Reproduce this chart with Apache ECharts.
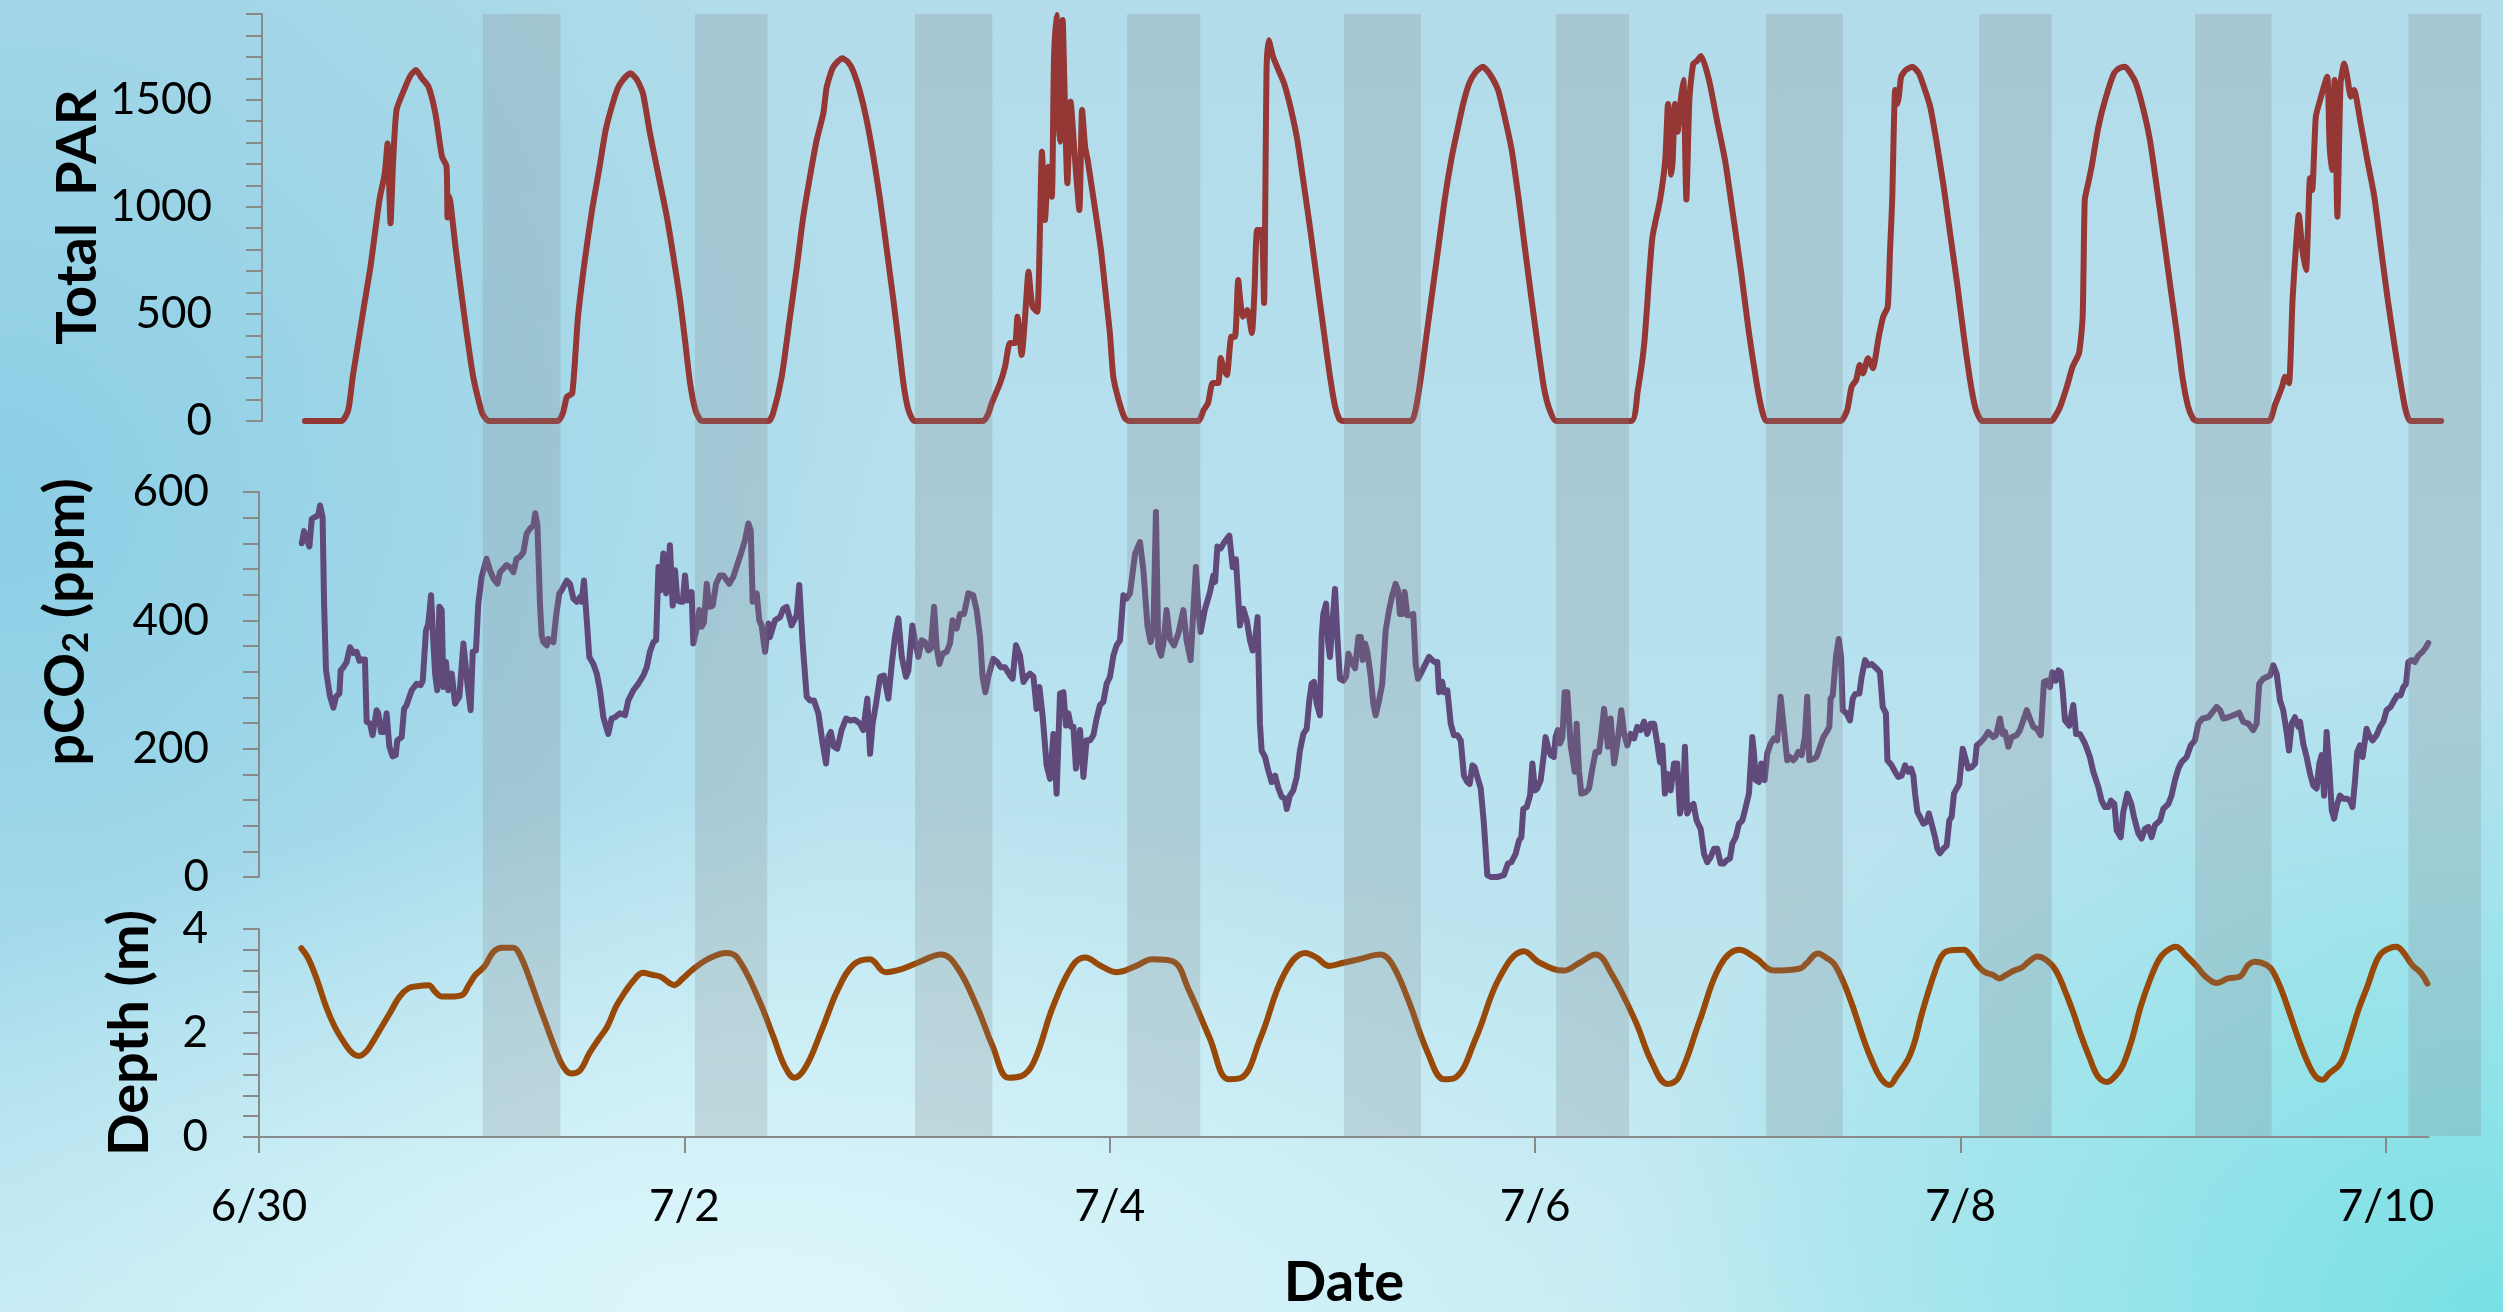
<!DOCTYPE html>
<html>
<head>
<meta charset="utf-8">
<script src="https://cdn.jsdelivr.net/npm/echarts@6/dist/echarts.min.js"></script>
<style>
html,body{margin:0;padding:0;width:2503px;height:1312px;overflow:hidden;}
#chart{width:2503px;height:1312px;
background:
 radial-gradient(ellipse 1100px 520px at 760px 1312px, rgba(222,248,252,0.95) 0%, rgba(222,248,252,0) 100%),
 radial-gradient(ellipse 900px 650px at 2503px 1312px, rgba(115,224,228,0.95) 0%, rgba(115,224,228,0) 100%),
 radial-gradient(ellipse 900px 900px at 0px 500px, rgba(135,204,228,0.9) 0%, rgba(135,204,228,0) 100%),
 linear-gradient(180deg, #b2dce9 0%, #b7e1ee 50%, #c2e9f2 100%);
}
</style>
</head>
<body>
<div id="chart"></div>
<script>
// ---- data (time in days since 6/30 00:00) ----
const parData = [
[0.201,0],[0.372,0],[0.404,51],[0.425,207],[0.445,331],[0.475,520],[0.508,720],[0.550,1032],[0.575,1156],[0.588,1296],[0.602,923],[0.613,1187],[0.630,1452],[0.665,1545],[0.697,1615],[0.721,1638],[0.749,1600],[0.780,1560],[0.812,1436],[0.843,1234],[0.864,1190],[0.869,950],[0.876,1050],[0.884,1010],[0.906,814],[0.948,487],[0.989,207],[1.031,37],[1.062,0],
[1.386,0],[1.410,40],[1.428,113],[1.453,129],[1.480,487],[1.512,751],[1.545,980],[1.580,1180],[1.610,1360],[1.638,1467],[1.665,1550],[1.690,1592],[1.725,1623],[1.755,1595],[1.784,1530],[1.817,1343],[1.856,1150],[1.896,954],[1.928,760],[1.958,565],[1.982,370],[2.005,176],[2.030,50],[2.052,5],[2.062,0],
[2.372,0],[2.394,37],[2.434,207],[2.473,487],[2.505,720],[2.535,954],[2.568,1150],[2.598,1312],[2.629,1436],[2.637,1500],[2.645,1560],[2.676,1654],[2.718,1693],[2.745,1675],[2.770,1631],[2.800,1540],[2.832,1405],[2.864,1230],[2.895,1032],[2.926,800],[2.957,565],[2.981,370],[3.004,176],[3.025,60],[3.043,14],[3.055,0],
[3.378,0],[3.400,30],[3.418,84],[3.457,177],[3.480,253],[3.503,364],[3.527,364],[3.538,487],[3.558,308],[3.574,487],[3.590,697],[3.600,600],[3.609,533],[3.631,510],[3.653,1257],[3.667,938],[3.683,1187],[3.699,1047],[3.709,1677],[3.721,1895],[3.731,1400],[3.737,1304],[3.750,1872],[3.758,1576],[3.772,1110],[3.787,1490],[3.808,1218],[3.828,985],[3.841,1452],[3.855,1280],[3.867,1218],[3.900,1000],[3.929,800],[3.955,560],[3.971,411],[3.987,207],[4.012,98],[4.040,15],[4.060,0],
[4.384,0],[4.410,51],[4.431,84],[4.452,177],[4.478,177],[4.490,294],[4.502,250],[4.519,215],[4.540,393],[4.557,393],[4.572,658],[4.582,560],[4.594,487],[4.615,518],[4.636,411],[4.648,600],[4.661,892],[4.682,892],[4.693,551],[4.705,1650],[4.715,1778],[4.735,1701],[4.760,1640],[4.787,1576],[4.818,1460],[4.849,1312],[4.880,1100],[4.912,876],[4.943,640],[4.974,411],[5.000,220],[5.026,67],[5.045,10],[5.059,0],
[5.382,0],[5.400,40],[5.424,177],[5.450,370],[5.476,565],[5.508,800],[5.539,1032],[5.570,1220],[5.602,1374],[5.628,1490],[5.654,1576],[5.685,1630],[5.717,1654],[5.750,1620],[5.789,1545],[5.820,1420],[5.853,1265],[5.885,1040],[5.916,798],[5.947,560],[5.978,331],[6.005,150],[6.031,51],[6.061,0],
[6.412,0],[6.443,140],[6.474,364],[6.511,850],[6.548,1034],[6.572,1218],[6.585,1480],[6.600,1150],[6.607,1218],[6.617,1480],[6.630,1350],[6.645,1500],[6.657,1592],[6.671,1034],[6.685,1500],[6.703,1667],[6.720,1680],[6.740,1704],[6.777,1592],[6.815,1400],[6.852,1218],[6.890,960],[6.927,700],[6.963,420],[7.000,177],[7.025,50],[7.046,0],
[7.393,0],[7.424,51],[7.445,160],[7.466,191],[7.483,261],[7.498,222],[7.522,293],[7.544,246],[7.572,393],[7.593,487],[7.614,533],[7.625,800],[7.635,1032],[7.649,1545],[7.658,1480],[7.666,1514],[7.677,1607],[7.698,1638],[7.729,1654],[7.760,1623],[7.787,1550],[7.813,1467],[7.845,1290],[7.876,1094],[7.907,870],[7.939,643],[7.970,400],[8.002,176],[8.025,60],[8.044,14],[8.055,0],
[8.380,0],[8.400,25],[8.422,67],[8.453,160],[8.480,253],[8.510,317],[8.527,487],[8.537,1032],[8.553,1110],[8.569,1187],[8.600,1370],[8.632,1498],[8.674,1623],[8.700,1648],[8.726,1654],[8.750,1625],[8.777,1576],[8.810,1460],[8.842,1312],[8.873,1100],[8.904,876],[8.936,640],[8.968,411],[8.995,200],[9.021,67],[9.045,10],[9.063,0],
[9.398,0],[9.428,75],[9.461,160],[9.475,207],[9.493,176],[9.510,565],[9.525,800],[9.539,962],[9.556,800],[9.573,705],[9.592,1133],[9.602,1078],[9.619,1420],[9.639,1498],[9.672,1607],[9.683,1300],[9.693,1172],[9.707,1592],[9.720,954],[9.735,1576],[9.752,1669],[9.766,1607],[9.783,1514],[9.798,1545],[9.829,1390],[9.860,1220],[9.893,1047],[9.925,800],[9.956,565],[9.988,350],[10.019,160],[10.040,50],[10.061,0],[10.206,0]
];

const pco2Data = [
[0.201,520],[0.212,539],[0.224,527],[0.237,515],[0.248,558],[0.263,561],[0.279,564],[0.287,579],[0.299,561],[0.306,426],[0.315,322],[0.334,281],[0.350,264],[0.362,281],[0.378,286],[0.384,322],[0.397,327],[0.412,335],[0.428,358],[0.444,349],[0.459,351],[0.472,337],[0.483,339],[0.498,339],[0.506,242],[0.522,239],[0.534,221],[0.553,260],[0.561,255],[0.574,226],[0.588,226],[0.600,255],[0.613,203],[0.628,188],[0.643,190],[0.650,213],[0.671,218],[0.682,262],[0.694,268],[0.718,291],[0.741,301],[0.760,299],[0.770,306],[0.785,384],[0.796,395],[0.809,439],[0.820,364],[0.828,317],[0.838,291],[0.848,421],[0.859,416],[0.867,296],[0.879,335],[0.890,291],[0.906,317],[0.922,270],[0.942,281],[0.961,364],[0.980,301],[0.995,260],[1.005,351],[1.020,353],[1.031,426],[1.047,468],[1.070,496],[1.086,478],[1.102,465],[1.121,457],[1.133,475],[1.164,486],[1.180,483],[1.196,475],[1.211,496],[1.227,499],[1.243,506],[1.258,535],[1.274,543],[1.290,548],[1.299,567],[1.309,548],[1.321,426],[1.329,377],[1.337,366],[1.353,361],[1.360,371],[1.384,366],[1.396,405],[1.412,442],[1.423,447],[1.447,462],[1.462,457],[1.478,434],[1.494,429],[1.509,436],[1.517,429],[1.528,462],[1.541,400],[1.553,343],[1.572,332],[1.588,317],[1.603,291],[1.619,249],[1.642,223],[1.658,247],[1.674,249],[1.697,255],[1.721,252],[1.736,275],[1.760,291],[1.783,301],[1.807,314],[1.823,327],[1.838,351],[1.854,366],[1.867,369],[1.878,483],[1.888,447],[1.901,504],[1.914,442],[1.932,517],[1.945,423],[1.956,478],[1.967,431],[1.982,429],[1.992,429],[2.003,470],[2.014,431],[2.034,444],[2.042,364],[2.058,387],[2.070,416],[2.081,390],[2.092,397],[2.105,457],[2.117,421],[2.133,423],[2.149,457],[2.167,470],[2.183,470],[2.211,457],[2.230,468],[2.261,499],[2.285,525],[2.301,551],[2.312,540],[2.321,429],[2.340,442],[2.352,400],[2.363,392],[2.379,351],[2.395,395],
[2.402,374],[2.426,400],[2.450,405],[2.465,418],[2.481,421],[2.504,392],[2.528,408],[2.540,455],[2.556,364],[2.575,281],[2.591,275],[2.609,275],[2.630,255],[2.650,208],[2.666,177],[2.677,218],[2.688,226],[2.703,203],[2.719,200],[2.739,229],[2.760,247],[2.779,244],[2.802,245],[2.826,239],[2.841,229],[2.860,278],[2.873,192],[2.885,239],[2.901,270],[2.920,312],[2.938,314],[2.959,278],[2.975,332],[2.990,374],[3.006,403],[3.022,343],[3.042,312],[3.053,322],[3.072,392],[3.084,369],[3.100,343],[3.116,369],[3.131,366],[3.147,353],[3.158,356],[3.174,421],[3.186,358],[3.199,332],[3.214,348],[3.233,351],[3.249,364],[3.261,400],[3.280,387],[3.296,410],[3.315,410],[3.335,442],[3.358,439],[3.374,416],[3.390,374],[3.402,312],[3.415,288],[3.429,312],[3.452,340],[3.471,335],[3.487,327],[3.507,327],[3.531,314],[3.543,309],[3.559,361],[3.578,345],[3.594,304],[3.609,312],[3.625,317],[3.641,312],[3.656,262],[3.669,296],[3.684,252],[3.703,174],[3.719,153],[3.735,223],[3.750,130],[3.766,286],[3.782,288],[3.794,236],[3.805,255],[3.818,234],[3.829,234],[3.841,169],[3.860,229],[3.876,156],[3.891,213],[3.907,213],[3.923,221],[3.938,247],[3.954,268],[3.970,273],[3.985,301],[4.001,312],[4.017,345],[4.032,361],[4.048,369],[4.064,439],[4.079,434],[4.095,442],[4.119,504],[4.142,522],[4.158,478],[4.177,392],[4.192,366],[4.205,384],[4.217,569],[4.228,358],[4.241,345],[4.252,364],[4.267,416],[4.283,371],[4.302,361],[4.322,379],[4.346,416],[4.361,369],[4.380,338],[4.393,416],[4.405,483],[4.416,418],[4.427,382],[4.448,418],[4.471,444],[4.487,470],[4.495,460],[4.506,515],[4.521,512],[4.539,522],[4.562,532],[4.578,483],[4.593,495],[4.612,392],[4.628,418],[4.644,400],[4.659,369],[4.672,353],[4.683,369],[4.695,405],[4.706,239],[4.714,197],[4.730,187],[4.745,166],[4.761,148],[4.777,158],[4.793,138],
[4.808,125],[4.824,122],[4.832,106],[4.847,127],[4.863,135],[4.879,156],[4.894,197],[4.910,223],[4.926,231],[4.938,275],[4.949,301],[4.960,304],[4.973,270],[4.988,252],[4.996,374],[5.004,410],[5.017,426],[5.027,364],[5.035,343],[5.048,400],[5.059,449],[5.070,374],[5.082,309],[5.098,306],[5.111,312],[5.122,348],[5.137,335],[5.153,325],[5.169,374],[5.180,374],[5.189,338],[5.200,364],[5.211,351],[5.227,312],[5.239,270],[5.250,252],[5.266,275],[5.281,301],[5.297,384],[5.313,416],[5.328,439],[5.344,457],[5.355,447],[5.364,410],[5.375,410],[5.386,444],[5.399,408],[5.415,408],[5.427,410],[5.438,332],[5.449,309],[5.462,317],[5.477,327],[5.501,343],[5.516,338],[5.527,335],[5.540,335],[5.548,288],[5.563,304],[5.571,288],[5.587,291],[5.603,239],[5.618,221],[5.634,221],[5.650,213],[5.665,158],[5.681,148],[5.692,145],[5.705,174],[5.716,171],[5.728,156],[5.744,138],[5.759,83],[5.775,3],[5.791,0],[5.822,0],[5.853,3],[5.872,21],[5.888,23],[5.908,36],[5.924,57],[5.935,62],[5.944,106],[5.960,109],[5.976,127],[5.987,177],[5.999,135],[6.010,138],[6.026,151],[6.041,192],[6.049,218],[6.060,203],[6.073,190],[6.088,187],[6.096,218],[6.107,229],[6.117,208],[6.128,218],[6.139,288],[6.151,288],[6.167,205],[6.186,164],[6.195,239],[6.206,166],[6.217,130],[6.237,132],[6.253,138],[6.269,169],[6.284,195],[6.300,195],[6.311,223],[6.324,262],[6.331,260],[6.342,203],[6.355,247],[6.371,177],[6.386,208],[6.405,260],[6.418,223],[6.433,205],[6.449,223],[6.465,216],[6.480,234],[6.496,229],[6.512,242],[6.527,223],[6.543,239],[6.559,239],[6.574,208],[6.587,179],[6.598,205],[6.610,130],[6.621,161],[6.637,135],[6.653,177],[6.668,177],[6.681,99],[6.696,122],[6.704,203],[6.715,99],[6.728,109],[6.744,114],[6.759,88],[6.778,75],[6.794,36],[6.809,23],[6.825,31],[6.841,44],[6.856,44],[6.872,21],[6.885,21],[6.900,26],[6.916,29],[6.927,52],[6.943,62],[6.958,83],[6.974,88],[6.990,109],[7.005,130],[7.021,218],[7.029,192],[7.037,151],[7.052,148],[7.063,177],[7.079,151],[7.091,192],[7.107,208],[7.123,216],[7.138,213],[7.154,281],[7.170,229],[7.185,182],
[7.198,187],[7.214,182],[7.226,187],[7.237,195],[7.253,190],[7.268,218],[7.279,281],[7.289,182],[7.308,184],[7.323,187],[7.339,203],[7.355,218],[7.370,226],[7.383,234],[7.389,278],[7.399,283],[7.414,343],[7.427,371],[7.438,343],[7.446,260],[7.464,255],[7.480,244],[7.493,278],[7.504,285],[7.524,286],[7.535,312],[7.551,338],[7.566,330],[7.582,332],[7.605,325],[7.621,319],[7.634,265],[7.649,255],[7.656,182],[7.676,174],[7.692,164],[7.707,156],[7.723,158],[7.739,174],[7.754,164],[7.767,169],[7.778,158],[7.786,130],[7.797,101],[7.809,94],[7.825,83],[7.841,86],[7.851,99],[7.864,83],[7.880,62],[7.891,44],[7.903,37],[7.919,44],[7.935,49],[7.947,88],[7.958,94],[7.969,130],[7.982,138],[7.994,145],[8.010,200],[8.021,187],[8.036,169],[8.052,171],[8.068,177],[8.076,205],[8.091,209],[8.115,218],[8.130,226],[8.154,218],[8.167,221],[8.185,247],[8.198,223],[8.209,226],[8.225,203],[8.240,218],[8.264,221],[8.279,229],[8.295,244],[8.311,260],[8.326,247],[8.342,234],[8.358,231],[8.377,221],[8.392,304],[8.405,306],[8.420,296],[8.431,319],[8.447,306],[8.460,322],[8.471,319],[8.480,291],[8.491,244],[8.511,236],[8.530,268],[8.543,223],[8.561,223],[8.585,208],[8.608,187],[8.624,164],[8.648,140],[8.663,119],[8.679,109],[8.695,109],[8.707,119],[8.723,114],[8.734,73],[8.753,62],[8.765,101],[8.784,130],[8.804,112],[8.815,94],[8.836,68],[8.851,60],[8.867,75],[8.883,78],[8.898,62],[8.914,81],[8.938,88],[8.953,106],[8.977,114],[8.992,127],[9.008,151],[9.024,169],[9.039,179],[9.063,187],[9.082,205],[9.102,213],[9.118,239],[9.138,247],[9.165,249],[9.180,255],[9.204,265],[9.220,260],[9.235,247],[9.259,249],[9.282,252],[9.310,256],[9.329,242],[9.353,239],[9.376,229],[9.392,239],[9.404,301],[9.423,309],[9.442,312],[9.455,314],[9.470,330],[9.486,317],[9.502,275],[9.517,260],[9.533,226],[9.544,197],[9.557,239],[9.572,249],[9.588,234],
[9.596,242],[9.611,208],[9.627,187],[9.643,161],[9.658,143],[9.674,138],[9.687,177],[9.698,190],[9.709,127],[9.721,226],[9.734,166],[9.745,104],[9.756,91],[9.771,114],[9.784,127],[9.799,122],[9.815,122],[9.831,119],[9.843,109],[9.854,148],[9.865,195],[9.878,205],[9.890,187],[9.909,231],[9.925,218],[9.937,213],[9.956,221],[9.972,234],[9.988,242],[10.003,260],[10.022,265],[10.038,275],[10.053,283],[10.069,283],[10.082,296],[10.094,301],[10.105,335],[10.121,338],[10.136,335],[10.152,345],[10.172,351],[10.188,358],[10.199,365]
];

const depthData = [
[0.199,3.63],[0.231,3.44],[0.273,3.02],[0.315,2.51],[0.356,2.12],[0.398,1.83],[0.440,1.61],[0.472,1.56],[0.503,1.64],[0.535,1.83],[0.577,2.12],[0.619,2.41],[0.661,2.70],[0.703,2.86],[0.745,2.90],[0.797,2.92],[0.829,2.79],[0.860,2.70],[0.902,2.70],[0.955,2.73],[0.986,2.92],[1.018,3.12],[1.060,3.28],[1.102,3.56],[1.143,3.64],[1.196,3.64],[1.227,3.50],[1.269,3.08],[1.311,2.60],[1.354,2.12],[1.395,1.67],[1.431,1.35],[1.469,1.22],[1.511,1.29],[1.553,1.61],[1.595,1.87],[1.637,2.12],[1.679,2.51],[1.721,2.79],[1.763,3.02],[1.805,3.16],[1.847,3.12],[1.889,3.08],[1.930,2.96],[1.952,2.92],[1.993,3.05],[2.036,3.21],[2.110,3.42],[2.196,3.54],[2.248,3.45],[2.346,2.68],[2.420,1.91],[2.473,1.35],[2.518,1.14],[2.571,1.35],[2.646,2.06],[2.721,2.83],[2.796,3.32],[2.871,3.42],[2.946,3.17],[3.021,3.23],[3.096,3.35],[3.208,3.51],[3.283,3.26],[3.374,2.52],[3.449,1.75],[3.524,1.14],[3.584,1.17],[3.644,1.45],[3.734,2.52],[3.824,3.29],[3.884,3.45],[3.959,3.29],[4.034,3.17],[4.124,3.29],[4.199,3.42],[4.296,3.38],[4.371,2.83],[4.469,1.91],[4.559,1.11],[4.619,1.14],[4.709,1.91],[4.821,3.14],[4.919,3.54],[4.972,3.45],[5.032,3.29],[5.099,3.35],[5.174,3.42],[5.272,3.51],[5.324,3.35],[5.399,2.68],[5.497,1.60],[5.572,1.11],[5.624,1.14],[5.722,1.91],[5.834,3.08],[5.947,3.57],[6.022,3.35],[6.134,3.20],[6.209,3.35],[6.284,3.51],[6.359,3.14],[6.472,2.22],[6.547,1.45],[6.622,1.02],[6.674,1.14],[6.772,2.22],[6.869,3.29],[6.959,3.60],[7.034,3.45],[7.124,3.20],
[7.245,3.24],[7.276,3.34],[7.329,3.53],[7.371,3.44],[7.403,3.34],[7.445,3.02],[7.488,2.57],[7.519,2.19],[7.551,1.80],[7.582,1.48],[7.625,1.13],[7.667,1.00],[7.698,1.16],[7.751,1.48],[7.782,1.80],[7.814,2.31],[7.846,2.76],[7.877,3.15],[7.909,3.47],[7.941,3.58],[8.015,3.60],[8.046,3.50],[8.078,3.31],[8.110,3.18],[8.151,3.12],[8.183,3.05],[8.215,3.12],[8.257,3.21],[8.289,3.26],[8.320,3.37],[8.362,3.47],[8.404,3.40],[8.447,3.21],[8.489,2.83],[8.531,2.38],[8.563,1.99],[8.605,1.54],[8.647,1.16],[8.689,1.06],[8.731,1.19],[8.763,1.38],[8.805,1.87],[8.847,2.51],[8.890,3.02],[8.931,3.40],[8.963,3.56],[9.012,3.66],[9.058,3.50],[9.111,3.28],[9.153,3.08],[9.206,2.96],[9.258,3.05],[9.311,3.08],[9.353,3.31],[9.385,3.37],[9.438,3.31],[9.469,3.18],[9.512,2.79],[9.553,2.31],[9.596,1.80],[9.638,1.38],[9.670,1.16],[9.701,1.10],[9.733,1.22],[9.786,1.42],[9.827,1.87],[9.870,2.44],[9.912,2.89],[9.954,3.37],[9.986,3.56],[10.049,3.66],[10.080,3.56],[10.123,3.31],[10.165,3.15],[10.195,2.95]
];

// night (PAR = 0) shading, start / end in days
const nightStart = [1.052, 2.050, 3.084, 4.082, 5.101, 6.098, 7.085, 8.087, 9.102, 10.105];
const nightEnd   = [1.417, 2.390, 3.448, 4.425, 5.463, 6.441, 7.446, 8.428, 9.462, 10.447];

// tick labels
const parTickLabels = [0, 500, 1000, 1500];
const pco2TickLabels = [0, 200, 400, 600];
const depthTickLabels = [0, 2, 4];
const dateTickValues = [0, 2, 4, 6, 8, 10];
const dateTickLabels = ['6/30', '7/2', '7/4', '7/6', '7/8', '7/10'];

// ---- chart ----
const AXIS_COLOR = '#8a8a8a';
const FONT = 'Lato, "Open Sans", sans-serif';
const LINE_W = 6;
const chart = echarts.init(document.getElementById('chart'), null, {renderer: 'canvas'});

function yAxisCfg(gridIndex, max, interval, labels, margin) {
  return {
    type: 'value', gridIndex: gridIndex, min: 0, max: max, interval: interval,
    axisLine: {show: true, lineStyle: {color: AXIS_COLOR, width: 2}},
    axisTick: {show: true, length: 16, lineStyle: {color: AXIS_COLOR, width: 2}},
    splitLine: {show: false},
    axisLabel: {customValues: labels, formatter: v => String(v), color: '#000', fontSize: 44, fontFamily: FONT, margin: margin}
  };
}

const lineBase = {type: 'line', showSymbol: false, symbol: 'none', animation: false, clip: true};

chart.setOption({
  backgroundColor: 'transparent',
  animation: false,
  grid: [
    {left: 262, top: 14, width: 2180, height: 407},
    {left: 259, top: 492, width: 2169.5, height: 385},
    {left: 259, top: 929, width: 2169.5, height: 208},
    {left: 259, top: 14, width: 2233.4, height: 1122}
  ],
  xAxis: [
    {type: 'value', gridIndex: 0, min: 0, max: 10.21, show: false},
    {type: 'value', gridIndex: 1, min: 0, max: 10.2, show: false},
    {type: 'value', gridIndex: 2, min: 0, max: 10.2, interval: 2,
      axisLine: {show: true, onZero: false, lineStyle: {color: AXIS_COLOR, width: 2}},
      axisTick: {show: true, customValues: dateTickValues, length: 16, lineStyle: {color: AXIS_COLOR, width: 2}},
      splitLine: {show: false},
      axisLabel: {customValues: dateTickValues, formatter: v => dateTickLabels[dateTickValues.indexOf(v)] || '',
        color: '#000', fontSize: 44, fontFamily: FONT, margin: 48}},
    {type: 'value', gridIndex: 3, min: 0, max: 10.5, show: false}
  ],
  yAxis: [
    yAxisCfg(0, 1900, 100, parTickLabels, 50),
    yAxisCfg(1, 600, 40, pco2TickLabels, 50),
    yAxisCfg(2, 4, 0.4, depthTickLabels, 51),
    {type: 'value', gridIndex: 3, min: 0, max: 1, show: false}
  ],
  series: [
    Object.assign({}, lineBase, {name: 'Total PAR', xAxisIndex: 0, yAxisIndex: 0, data: parData, smooth: 0.2,
      lineStyle: {color: '#953735', width: LINE_W, join: 'round', cap: 'round'}, z: 3}),
    Object.assign({}, lineBase, {name: 'pCO2', xAxisIndex: 1, yAxisIndex: 1, data: pco2Data, smooth: false,
      lineStyle: {color: '#604a7b', width: LINE_W, join: 'round', cap: 'round'}, z: 3}),
    Object.assign({}, lineBase, {name: 'Depth', xAxisIndex: 2, yAxisIndex: 2, data: depthData, smooth: 0.4,
      lineStyle: {color: '#984807', width: LINE_W, join: 'round', cap: 'round'}, z: 3}),
    {type: 'custom', name: 'night', xAxisIndex: 3, yAxisIndex: 3, z: 10, animation: false, silent: true,
      data: nightStart.map((s, i) => [s, nightEnd[i]]),
      encode: {x: [0, 1]},
      renderItem: function (params, api) {
        const a = api.coord([api.value(0), 1]);
        const b = api.coord([api.value(1), 0]);
        return {type: 'rect', shape: {x: a[0], y: a[1], width: b[0] - a[0], height: b[1] - a[1]},
          style: {fill: 'rgba(128,132,138,0.24)'}};
      }}
  ],
  graphic: [
    {type: 'text', x: 78, y: 217, rotation: Math.PI / 2,
      style: {text: 'Total  PAR', font: 'bold 56px ' + FONT, fill: '#000', textAlign: 'center', textVerticalAlign: 'middle'}},
    {type: 'text', x: 66, y: 622, rotation: Math.PI / 2,
      style: {text: 'pCO{s|2} (ppm)', font: 'bold 56px ' + FONT, fill: '#000', textAlign: 'center', textVerticalAlign: 'middle',
        rich: {s: {fontSize: 36, fontWeight: 'bold', fontFamily: FONT, verticalAlign: 'bottom', lineHeight: 50}}}},
    {type: 'text', x: 130, y: 1033, rotation: Math.PI / 2,
      style: {text: 'Depth (m)', font: 'bold 56px ' + FONT, fill: '#000', textAlign: 'center', textVerticalAlign: 'middle'}},
    {type: 'text', x: 1344, y: 1283,
      style: {text: 'Date', font: 'bold 56px ' + FONT, fill: '#000', textAlign: 'center', textVerticalAlign: 'middle'}}
  ]
});
</script>
</body>
</html>
